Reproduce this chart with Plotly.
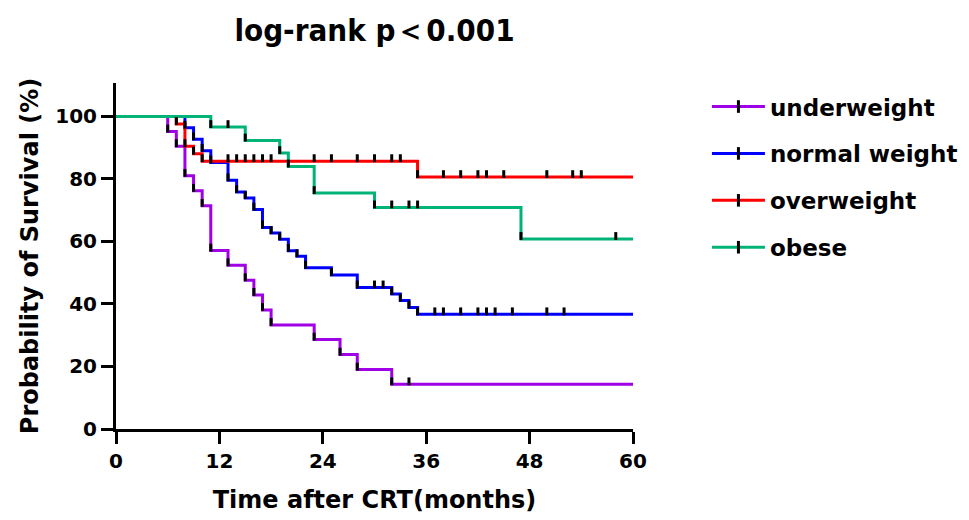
import plotly.graph_objects as go

# ---- data (time in months, survival in %) ----
groups = ["underweight", "normal weight", "overweight", "obese"]
colors = ["#A000E6", "#0000FF", "#FF0000", "#00B377"]

underweight_t = [6, 7, 8, 9, 10, 11, 13, 15, 16, 17, 18, 23, 26, 28, 32]
underweight_s = [95.2, 90.5, 81.0, 76.2, 71.4, 57.1, 52.4, 47.6, 42.9, 38.1, 33.3, 28.6, 23.8, 19.0, 14.3]
underweight_c = [34]

normal_t = [8, 9, 10, 11, 13, 14, 15, 16, 17, 18, 19, 20, 21, 22, 25, 28, 32, 33, 34, 35]
normal_s = [96.4, 92.7, 89.0, 85.3, 79.6, 75.8, 73.9, 70.2, 64.5, 62.7, 60.7, 57.0, 55.3, 51.6,
            49.3, 45.3, 43.2, 41.1, 38.9, 36.7]
normal_c = [30, 31, 37, 38, 40, 42, 43, 44, 46, 50, 52]

overweight_t = [7, 8, 9, 10, 35]
overweight_s = [97.6, 90.5, 88.1, 85.7, 80.6]
overweight_c = [13, 14, 15, 16, 17, 18, 23, 25, 28, 30, 32, 33, 38, 40, 42, 43, 45, 50, 53, 54]

obese_t = [11, 15, 19, 20, 23, 30, 47]
obese_s = [96.6, 92.3, 88.3, 84.0, 75.5, 70.9, 60.8]
obese_c = [13, 32, 34, 35, 58]

x_ticks = [0, 12, 24, 36, 48, 60]
y_ticks = [0, 20, 40, 60, 80, 100]
t_end = 60

events = [(underweight_t, underweight_s, underweight_c),
          (normal_t, normal_s, normal_c),
          (overweight_t, overweight_s, overweight_c),
          (obese_t, obese_s, obese_c)]

FONT = "DejaVu Sans"
fig = go.Figure()


def value_at(ts, ss, c):
    v = 100.0
    for t, s in zip(ts, ss):
        if t <= c:
            v = s
    return v


tick_x, tick_y = [], []
TICK_UP, TICK_DN = 2.2, 0.3
for name, col, (ts, ss, cs) in zip(groups, colors, events):
    xs = [0] + ts + [t_end]
    ys = [100] + ss + [ss[-1]]
    fig.add_trace(go.Scatter(x=xs, y=ys, mode="lines", line=dict(color=col, width=3, shape="hv"),
                             showlegend=False, hoverinfo="skip"))
    for t, s in zip(ts, ss):
        tick_x += [t, t, None]
        tick_y += [s - TICK_DN, s + TICK_UP, None]
    for c in cs:
        v = value_at(ts, ss, c)
        tick_x += [c, c, None]
        tick_y += [v - TICK_DN, v + TICK_UP, None]

fig.add_trace(go.Scatter(x=tick_x, y=tick_y, mode="lines", line=dict(color="black", width=3),
                         showlegend=False, hoverinfo="skip"))

for name, col in zip(groups, colors):
    fig.add_trace(go.Scatter(x=[None], y=[None], mode="lines+markers", name=name, legendgroup=name,
                             line=dict(color=col, width=3),
                             marker=dict(symbol="line-ns", size=9, line=dict(color="black", width=3))))

axis_common = dict(showline=True, linecolor="black", linewidth=3, ticks="outside", ticklen=12,
                   tickwidth=3, tickcolor="black", showgrid=False, zeroline=False, automargin=False,
                   tickfont=dict(family=FONT, size=20, color="black", weight="bold"))

fig.update_layout(
    width=969, height=520,
    margin=dict(l=108, r=344, t=75, b=99, autoexpand=False),
    plot_bgcolor="white", paper_bgcolor="white",
    title=dict(text="log-rank p＜0.001", x=0.5, xref="paper", y=0.958, yref="container",
               xanchor="center", yanchor="middle",
               font=dict(family="DejaVu Sans Condensed, sans-serif",
                         size=31, color="black", weight="bold")),
    xaxis=dict(range=[0, 60], tickvals=x_ticks, ticktext=[str(v) for v in x_ticks],
               title=dict(text="Time after CRT(months)", standoff=20,
                          font=dict(family=FONT, size=24, color="black", weight="bold")),
               **axis_common),
    yaxis=dict(range=[0, 110.7], tickvals=y_ticks, ticktext=[str(v) for v in y_ticks],
               title=dict(text="Probability of Survival (%)", standoff=10,
                          font=dict(family=FONT, size=24, color="black", weight="bold")),
               **axis_common),
    legend=dict(x=1.143, y=0.994, xanchor="left", yanchor="top", tracegroupgap=14,
                font=dict(family=FONT, size=23, color="black", weight="bold"),
                itemwidth=53, bgcolor="rgba(0,0,0,0)"),
)

fig.write_html("out.html")
